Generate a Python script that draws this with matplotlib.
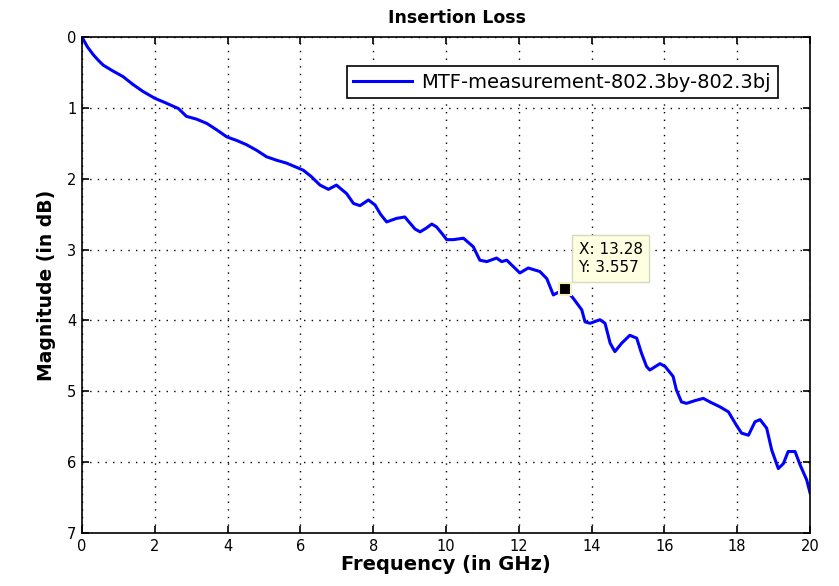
import matplotlib.pyplot as plt
import numpy as np

plt.rcParams['font.family'] = ['DejaVu Sans']

# insertion loss trace (GHz, dB)
freq = [0.0, 0.15, 0.31, 0.45, 0.59, 0.85, 1.13, 1.4, 1.68, 2.0, 2.3, 2.65, 2.87, 3.15,
        3.43, 3.7, 3.98, 4.25, 4.52, 4.8, 5.07, 5.35, 5.62, 5.85, 6.08, 6.3, 6.54,
        6.77, 6.99, 7.27, 7.46, 7.64, 7.87, 8.05, 8.2, 8.37, 8.64, 8.87, 9.0, 9.15,
        9.29, 9.45, 9.61, 9.74, 9.9, 10.02, 10.2, 10.48, 10.75, 10.93, 11.12, 11.39,
        11.53, 11.67, 11.85, 12.03, 12.26, 12.58, 12.77, 12.95, 13.1, 13.28, 13.5,
        13.73, 13.82, 13.96, 14.23, 14.37, 14.51, 14.64, 14.83, 15.05, 15.24, 15.37,
        15.51, 15.6, 15.88, 16.02, 16.24, 16.33, 16.47, 16.61, 16.85, 17.07, 17.25,
        17.53, 17.76, 17.98, 18.12, 18.31, 18.49, 18.63, 18.81, 18.95, 19.13, 19.27,
        19.4, 19.59, 19.73, 19.91, 20.0]
loss = [0.0, 0.14, 0.25, 0.33, 0.4, 0.48, 0.56, 0.67, 0.77, 0.865, 0.93, 1.01, 1.12, 1.16,
        1.22, 1.31, 1.41, 1.46, 1.52, 1.6, 1.69, 1.74, 1.78, 1.83, 1.88, 1.97, 2.09,
        2.15, 2.09, 2.21, 2.35, 2.38, 2.3, 2.37, 2.5, 2.61, 2.56, 2.54, 2.62, 2.71,
        2.75, 2.7, 2.64, 2.68, 2.78, 2.86, 2.86, 2.84, 2.96, 3.15, 3.17, 3.12,
        3.17, 3.15, 3.24, 3.33, 3.26, 3.31, 3.41, 3.64, 3.6, 3.557, 3.69,
        3.85, 4.02, 4.04, 3.99, 4.04, 4.32, 4.44, 4.32, 4.21, 4.25, 4.46,
        4.65, 4.7, 4.61, 4.65, 4.79, 4.98, 5.15, 5.17, 5.13, 5.1, 5.15,
        5.22, 5.29, 5.48, 5.59, 5.62, 5.43, 5.4, 5.52, 5.83, 6.09, 6.02,
        5.85, 5.85, 6.04, 6.25, 6.43]

tip_x = 13.28
tip_y = 3.557

fig = plt.figure(figsize=(8.39, 5.86), dpi=100)
ax = fig.add_axes([0.0977, 0.0904, 0.8677, 0.8465])

ax.plot(freq, loss, color='#0000ff', lw=2.2, label='MTF-measurement-802.3by-802.3bj')

# data tip
ax.plot([tip_x], [tip_y], 's', color='black', ms=8, mec='#f5f0c0', mew=1.5)
ax.annotate('X: 13.28\nY: 3.557', xy=(tip_x, tip_y), xytext=(9.5, 10),
            textcoords='offset points', fontsize=11, va='bottom', ha='left',
            linespacing=1.3,
            bbox=dict(boxstyle='square,pad=0.45', fc='#ffffe1', ec='#d8d8c0', lw=1))

ax.set_xlim(0, 20)
ax.set_ylim(7, 0)
ax.set_xticks(np.arange(0, 21, 2))
ax.set_yticks(np.arange(0, 8, 1))
ax.tick_params(direction='in', top=True, right=True, length=5, width=1.2,
               labelsize=10.5, pad=4)
ax.grid(True, color='black', linestyle=(0, (1, 4.5)), lw=1)
for s in ax.spines.values():
    s.set_linewidth(1.2)

ax.set_title('Insertion Loss', fontsize=12.5, fontweight='bold', pad=10, x=0.515)
ax.set_xlabel('Frequency (in GHz)', fontsize=14, fontweight='bold', labelpad=1)
ax.set_ylabel('Magnitude (in dB)', fontsize=13.5, fontweight='bold', labelpad=8)

leg = ax.legend(loc='upper right', bbox_to_anchor=(0.956, 0.942), fontsize=14,
                fancybox=False, framealpha=1, edgecolor='black', handlelength=3.0,
                handletextpad=0.5, borderpad=0.35, borderaxespad=0)
leg.get_frame().set_linewidth(1.2)

fig.savefig('out.png', dpi=100)
